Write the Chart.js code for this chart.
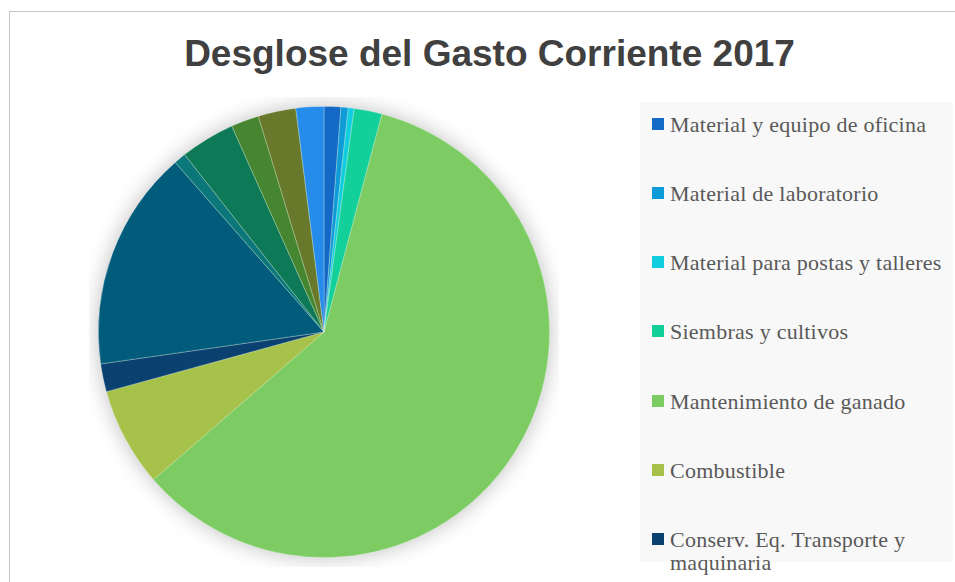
<!DOCTYPE html>
<html>
<head>
<meta charset="utf-8">
<script src="https://cdn.jsdelivr.net/npm/chart.js@4"></script>
<style>
html,body{margin:0;padding:0;background:#fff;}
#wrap{position:relative;width:955px;height:582px;overflow:hidden;}
#frame{position:absolute;left:9px;top:11px;width:960px;height:600px;border:1.5px solid #c4c4c4;box-sizing:border-box;}
#title{position:absolute;left:0;top:33px;width:979px;text-align:center;font:bold 37px "Liberation Sans",Arial,sans-serif;color:#404040;white-space:nowrap;line-height:42px;}
#pieBox{position:absolute;left:89px;top:97px;width:470px;height:470px;}
#legend{position:absolute;left:640px;top:102px;width:313px;height:460px;background:#f8f8f8;}
.lg{position:absolute;left:12px;width:300px;font-family:"Liberation Serif","DejaVu Serif",serif;font-size:22px;letter-spacing:0.25px;color:#595959;line-height:23px;}
.lg i{position:absolute;left:0;top:5px;width:12px;height:12px;}
.lg span{display:block;margin-left:18px;}
</style>
</head>
<body>
<div id="wrap">
 <div id="frame"></div>
 <div id="title">Desglose del Gasto Corriente 2017</div>
 <div id="pieBox"><canvas id="pie"></canvas></div>
 <div id="legend"></div>
</div>
<script>
// categorias (solo las 7 primeras se ven en la leyenda)
var categorias=['Material y equipo de oficina','Material de laboratorio','Material para postas y talleres','Siembras y cultivos','Mantenimiento de ganado','Combustible','Conserv. Eq. Transporte y maquinaria','Otros gastos 8','Otros gastos 9','Otros gastos 10','Otros gastos 11','Otros gastos 12','Otros gastos 13'];
// porcentaje de cada sector
var valores=[1.2,0.52,0.42,2.0,59.5,7.1,2.0,15.8,0.86,3.9,2.0,2.7,2.0];
var colores=['#1469c6','#0e9bd8','#10cde0','#13d09a','#7dcb63','#a6c24a','#0b4170','#015b7b','#0b777b','#0e7956','#468630','#69792b','#258ceb'];
var visibles=7;

// sombra suave detras del pastel
var sombra={id:'sombra',beforeDatasetsDraw:function(chart){
 var a=chart.getDatasetMeta(0).data[0]; if(!a)return;
 var ctx=chart.ctx; ctx.save();
 ctx.shadowColor='rgba(0,0,0,0.28)'; ctx.shadowBlur=22;
 ctx.fillStyle='#7dcb63'; ctx.beginPath(); ctx.arc(a.x,a.y,a.outerRadius-1,0,Math.PI*2); ctx.fill();
 ctx.restore();
}};

var pie=new Chart(document.getElementById('pie'),{
 type:'pie',
 data:{labels:categorias,datasets:[{data:valores,backgroundColor:colores,borderColor:'rgba(255,255,255,0.35)',borderWidth:0.8}]},
 options:{responsive:true,maintainAspectRatio:false,animation:false,layout:{padding:9},
  plugins:{legend:{display:false},tooltip:{enabled:false}}},
 plugins:[sombra]
});

// leyenda html con las etiquetas del grafico
var lgH='', ds=pie.data.datasets[0];
pie.data.labels.slice(0,visibles).forEach(function(txt,i){
 lgH+='<div class="lg" style="top:'+(10.5+i*69.3)+'px"><i style="background:'+ds.backgroundColor[i]+'"></i><span>'+txt+'</span></div>';
});
document.getElementById('legend').innerHTML=lgH;
</script>
</body>
</html>
